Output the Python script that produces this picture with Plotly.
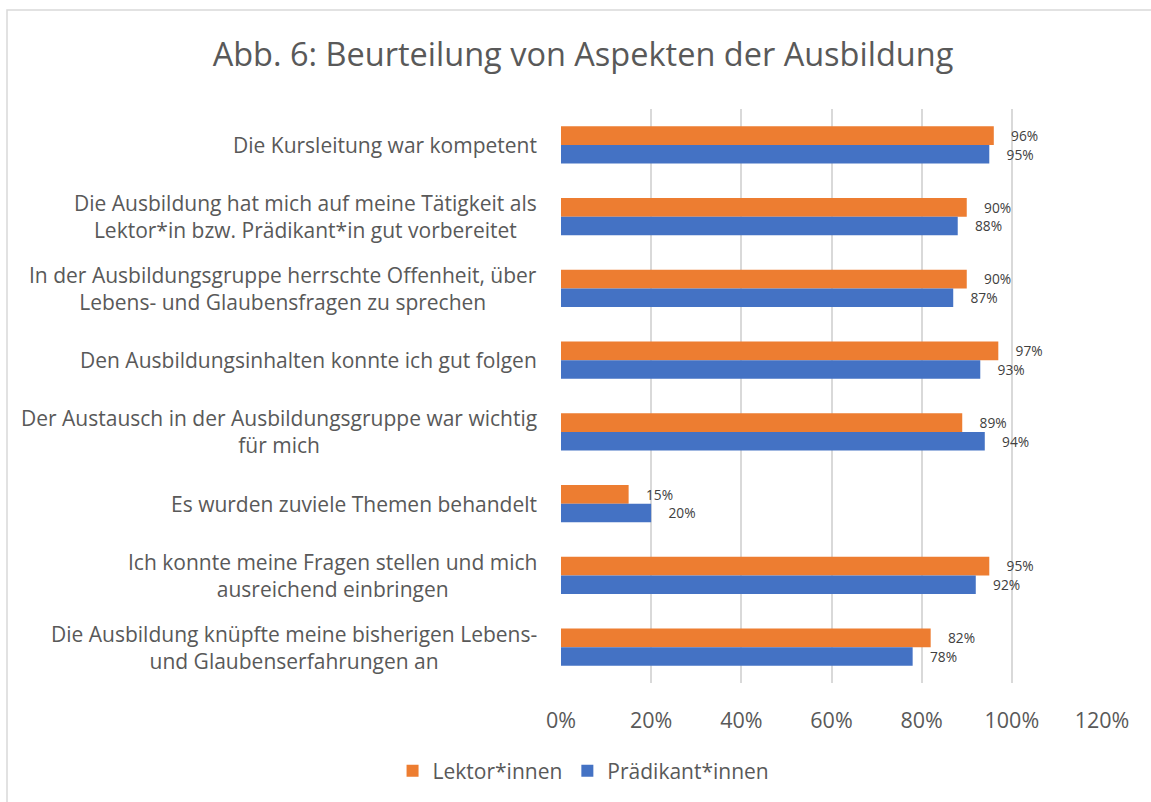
import plotly.graph_objects as go

categories = [
    "Die Kursleitung war kompetent",
    "Die Ausbildung hat mich auf meine Tätigkeit als<br>Lektor*in bzw. Prädikant*in gut vorbereitet",
    "In der Ausbildungsgruppe herrschte Offenheit, über<br>Lebens- und Glaubensfragen zu sprechen",
    "Den Ausbildungsinhalten konnte ich gut folgen",
    "Der Austausch in der Ausbildungsgruppe war wichtig<br>für mich",
    "Es wurden zuviele Themen behandelt",
    "Ich konnte meine Fragen stellen und mich<br>ausreichend einbringen",
    "Die Ausbildung knüpfte meine bisherigen Lebens-<br>und Glaubenserfahrungen an",
]
lektor = [0.96, 0.90, 0.90, 0.97, 0.89, 0.15, 0.95, 0.82]
praedikant = [0.95, 0.88, 0.87, 0.93, 0.94, 0.20, 0.92, 0.78]
series_names = ["Lektor*innen", "Prädikant*innen"]
x_ticks = [0, 0.2, 0.4, 0.6, 0.8, 1.0, 1.2]
x_tick_labels = ["0%", "20%", "40%", "60%", "80%", "100%", "120%"]
title = "Abb. 6: Beurteilung von Aspekten der Ausbildung"

FONT = "Open Sans"
TXT = "#595959"
PAD = "\u00a0" * 4

fig = go.Figure()
for name, vals, col in [(series_names[0], lektor, "#ED7D31"), (series_names[1], praedikant, "#4472C4")]:
    fig.add_trace(go.Bar(
        y=categories, x=vals, name=name, orientation="h",
        marker=dict(color=col, line=dict(width=0)),
        texttemplate=PAD + "%{x:.0%}", textposition="outside",
        textfont=dict(size=14, color="#404040", family=FONT),
        cliponaxis=False,
    ))

for c in categories:
    fig.add_annotation(
        x=0, xref="paper", y=c, yref="y", text=c, showarrow=False,
        xanchor="right", align="center", xshift=-22,
        font=dict(size=21, color=TXT, family=FONT),
    )

# chart area border
fig.add_shape(type="rect", xref="paper", yref="paper",
              x0=(7 - 561) / 541, x1=1.2, y0=-0.4, y1=1 + (109 - 10) / 574,
              line=dict(color="#D9D9D9", width=1.5), layer="below")

fig.update_layout(
    width=1151, height=802,
    margin=dict(l=561, r=49, t=109, b=119),
    paper_bgcolor="white", plot_bgcolor="white",
    barmode="group", bargap=0.48, bargroupgap=0,
    title=dict(text=title, x=0.5065, xanchor="center", y=1 - 55 / 802, yanchor="middle",
               font=dict(size=32.5, color=TXT, family=FONT)),
    legend=dict(orientation="h", xref="container", yref="container",
                x=0.507, xanchor="center", y=1 - 771 / 802, yanchor="middle",
                font=dict(size=21, color=TXT, family=FONT),
                traceorder="normal"),
    font=dict(family=FONT, color=TXT),
)
fig.update_xaxes(range=[0, 1.2], tickvals=x_ticks, ticktext=x_tick_labels,
                 showgrid=True, gridcolor="#D9D9D9", gridwidth=1.5,
                 zeroline=False, showline=False, ticks="",
                 tickfont=dict(size=21.5, color=TXT, family=FONT),
                 ticklabelstandoff=22)
fig.update_yaxes(autorange="reversed", showticklabels=False, showgrid=False,
                 showline=False, ticks="")

fig.write_html("out.html", config={"displayModeBar": False},
               post_script="document.body.style.margin='0';")
